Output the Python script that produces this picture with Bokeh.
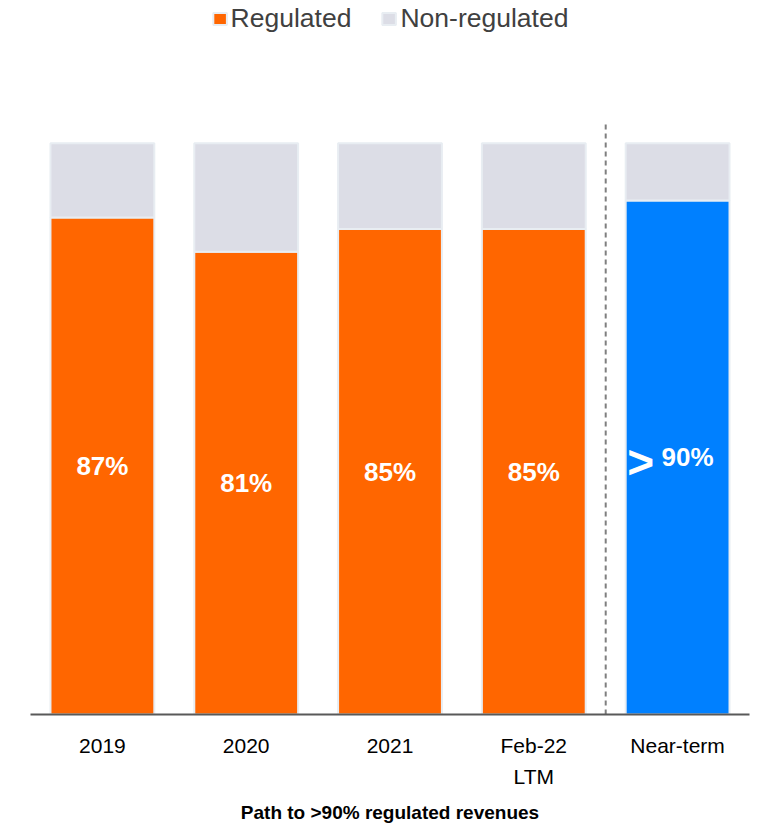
from bokeh.plotting import figure
from bokeh.models import FactorRange, Range1d, ColumnDataSource, Legend, LegendItem
from bokeh.core.properties import value
from bokeh.embed import file_html
from bokeh.resources import INLINE

# ---- data ----
categories = ["2019", "2020", "2021", "Feb-22\nLTM", "Near-term"]
regulated = [87, 81, 85, 85, 90]
non_regulated = [13, 19, 15, 15, 10]
labels = ["87%", "81%", "85%", "85%", "90%"]
prefixes = ["", "", "", "", ">"]
title_text = "Path to >90% regulated revenues"
divider_top = 104

# ---- styles ----
ORANGE = "#FF6600"
BLUE = "#0080FF"
GRAY = "#DCDDE6"
EDGE = "#E8EDF2"
FONT = "Liberation Sans"
reg_colors = [ORANGE, ORANGE, ORANGE, ORANGE, BLUE]
label_dx = [0, 0, 0, 0, 10]
prefix_dx = [0, 0, 0, 0, -37]

src = ColumnDataSource(dict(
    cat=categories,
    reg=regulated,
    total=[r + n for r, n in zip(regulated, non_regulated)],
    mid=[r / 2 for r in regulated],
    color=reg_colors,
    label=labels,
    prefix=prefixes,
    ldx=label_dx,
    pdx=prefix_dx,
))

p = figure(
    x_range=FactorRange(factors=categories, range_padding=0),
    y_range=Range1d(0, 125.0),
    width=757, height=826,
    output_backend="svg", toolbar_location=None,
    min_border_left=30, min_border_right=8, min_border_top=0, min_border_bottom=112,
    y_axis_location=None,
)
p.outline_line_color = None
p.xgrid.visible = False
p.ygrid.visible = False

r_reg = p.vbar(x="cat", top="reg", bottom=0, width=0.722, source=src,
               fill_color="color", line_color=EDGE, line_width=2)
r_non = p.vbar(x="cat", top="total", bottom="reg", width=0.722, source=src,
               fill_color=GRAY, line_color=EDGE, line_width=2)

p.segment(x0=[4], y0=[0], x1=[4], y1=[divider_top], line_color="#7F7F7F",
          line_width=2, line_dash="5 4")

p.text(x="cat", y="mid", text="label", x_offset="ldx", source=src,
       text_align="center", text_baseline="middle", text_color="white",
       text_font=value(FONT), text_font_style="bold", text_font_size="26px")
p.text(x="cat", y="mid", text="prefix", x_offset="pdx", y_offset=5, source=src,
       text_align="center", text_baseline="middle", text_color="white",
       text_font=value(FONT), text_font_style="bold", text_font_size="46px")

legend = Legend(items=[
    LegendItem(label="Regulated", renderers=[r_reg], index=0),
    LegendItem(label="Non-regulated", renderers=[r_non], index=0),
], location="top_center", orientation="horizontal")
legend.label_text_font = FONT
legend.label_text_font_size = "26.5px"
legend.label_text_color = "#404040"
legend.glyph_width = 17
legend.glyph_height = 15
legend.label_standoff = 3
legend.spacing = 29
legend.padding = 0
legend.margin = 3
legend.border_line_color = None
legend.background_fill_alpha = 0
p.add_layout(legend, "center")

ax = p.xaxis[0]
ax.major_tick_line_color = None
ax.minor_tick_line_color = None
ax.axis_line_color = "#595959"
ax.axis_line_width = 2
ax.major_label_text_font = FONT
ax.major_label_text_font_size = "21px"
ax.major_label_text_color = "#000000"
ax.major_label_standoff = 13
ax.major_label_text_line_height = 1.35
ax.axis_label = title_text
ax.axis_label_text_font = FONT
ax.axis_label_text_font_size = "19px"
ax.axis_label_text_font_style = "bold"
ax.axis_label_text_color = "#000000"
ax.axis_label_standoff = 11

open("out.html", "w").write(file_html(p, INLINE))
